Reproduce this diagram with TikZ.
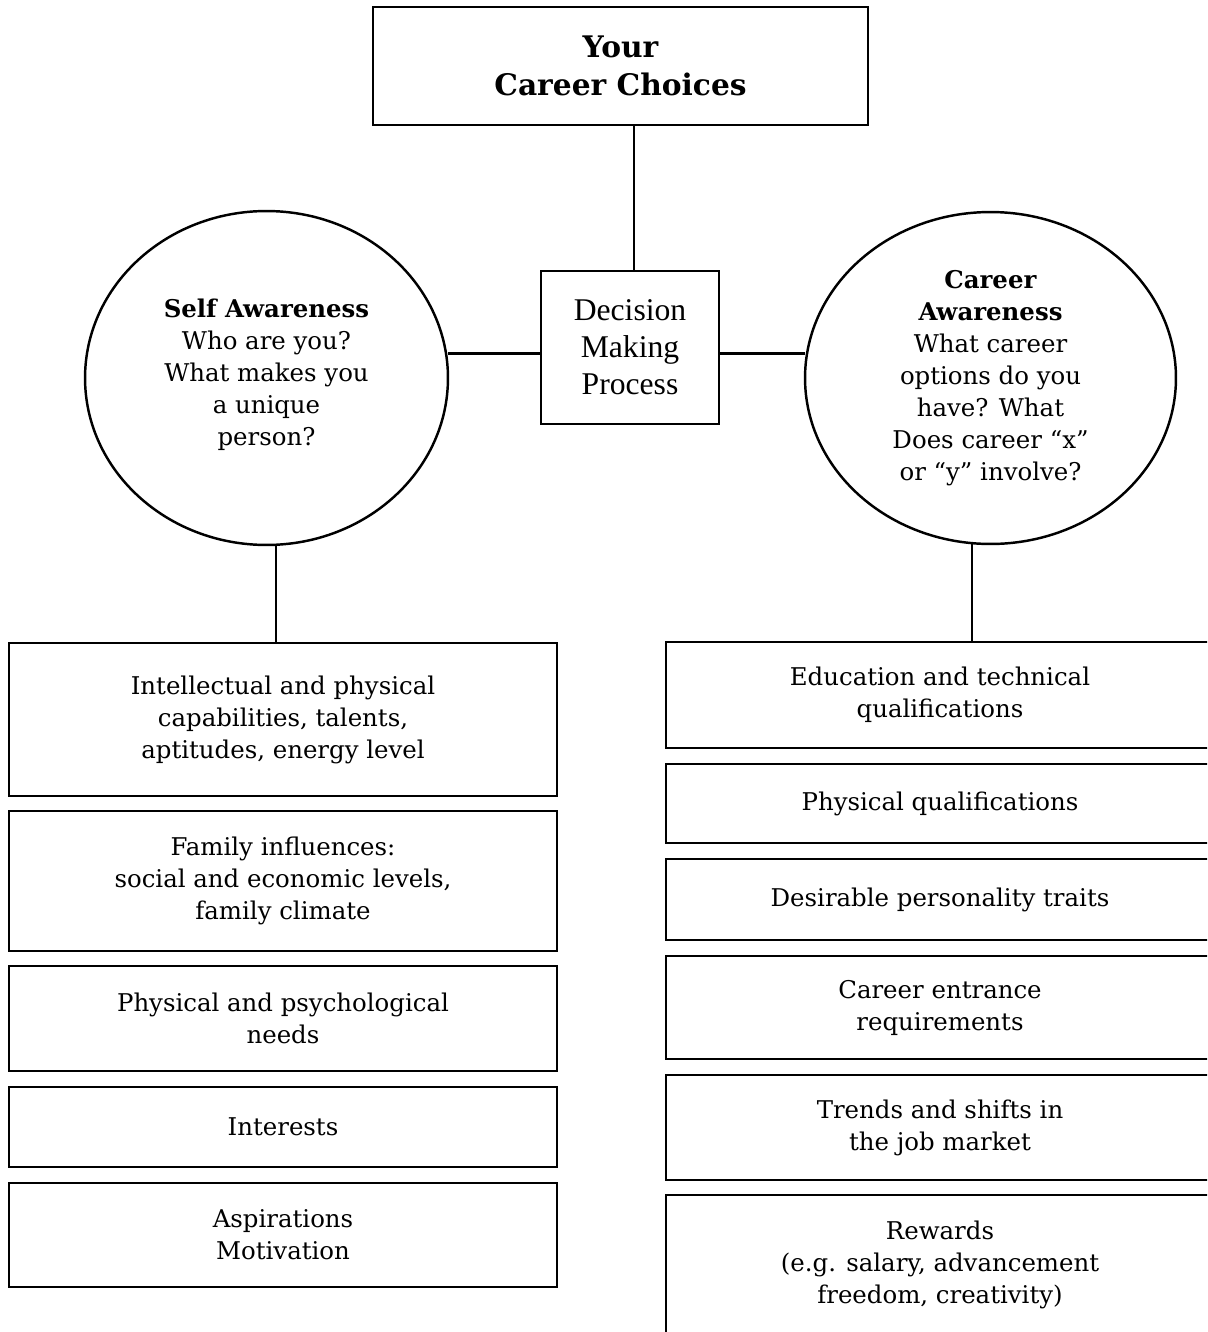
\documentclass[tikz,border=0pt]{standalone}
\usepackage{fontspec}
\setmainfont{DejaVu Serif}
\newfontfamily\timesfont{Liberation Serif}
\usetikzlibrary{shapes.geometric}
\tikzset{infobox/.style={shape=rectangle, draw, line width=1.4pt, inner sep=0pt, outer sep=0pt, minimum width=10.96cm, align=center, font=\fontsize{13.9}{18.2}\selectfont}}
\tikzset{awarenode/.style={shape=ellipse, draw, line width=1.4pt, inner sep=0pt, outer sep=0pt, align=center, font=\fontsize{13.9}{18.2}\selectfont}}
\tikzset{linkline/.style={line width=1.4pt}}

\begin{document}
\begin{tikzpicture}[x=0.02cm, y=-0.02cm]
\useasboundingbox (0,0) rectangle (1207,1332);
\clip (0,0) rectangle (1207,1332);
\node[style=infobox, minimum width=9.9cm, minimum height=2.36cm, font=\bfseries\fontsize{16.9}{21.6}\selectfont] (choices) at (620.5,66) {Your\\Career Choices};
\node[style=infobox, minimum width=3.56cm, minimum height=3.06cm, font=\timesfont\fontsize{18}{21}\selectfont] (decision) at (630,347.5) {Decision\\Making\\Process};
\node[style=awarenode, minimum width=7.26cm, minimum height=6.68cm] (self) at (266.5,378) {\textbf{Self Awareness}\\Who are you?\\What makes you\\a unique\\person?\\[-0.4cm]};
\node[style=awarenode, minimum width=7.42cm, minimum height=6.64cm] (career) at (990.5,378) {\textbf{Career}\\\textbf{Awareness}\\What career\\options do you\\have? What\\Does career “x”\\or “y” involve?};
\node[style=infobox, minimum height=3.06cm] (self1) at (283,719.5) {Intellectual and physical\\capabilities, talents,\\aptitudes, energy level};
\node[style=infobox, minimum height=2.8cm] (self2) at (283,881) {Family influences:\\social and economic levels,\\family climate};
\node[style=infobox, minimum height=2.1cm] (self3) at (283,1018.5) {Physical and psychological\\needs};
\node[style=infobox, minimum height=1.6cm] (self4) at (283,1127) {Interests};
\node[style=infobox, minimum height=2.08cm] (self5) at (283,1235) {Aspirations\\Motivation};
\node[style=infobox, minimum height=2.12cm] (career1) at (940,695) {Education and technical\\qualifications};
\node[style=infobox, minimum height=1.58cm] (career2) at (940,803.5) {Physical qualifications};
\node[style=infobox, minimum height=1.62cm] (career3) at (940,899.5) {Desirable personality traits};
\node[style=infobox, minimum height=2.06cm] (career4) at (940,1007.5) {Career entrance\\requirements};
\node[style=infobox, minimum height=2.1cm] (career5) at (940,1127.5) {Trends and shifts in\\the job market};
\node[style=infobox, minimum height=2.8cm] (career6) at (940,1265) {Rewards\\(e.g. salary, advancement\\freedom, creativity)};
\draw[style=linkline] ([xshift=0.08cm]decision.north) -- ([xshift=0.08cm]decision.north |- choices.south);
\draw[style=linkline] ([yshift=-0.12cm]decision.west) -- ([yshift=-0.12cm]decision.west -| self.east);
\draw[style=linkline] ([yshift=-0.12cm]decision.east) -- ([yshift=-0.12cm]decision.east -| career.west);
\draw[style=linkline] ([xshift=0.19cm]self.south) -- ([xshift=0.19cm]self.south |- self1.north);
\draw[style=linkline] ([xshift=-0.37cm]career.south) -- ([xshift=-0.37cm]career.south |- career1.north);
\end{tikzpicture}
\end{document}
